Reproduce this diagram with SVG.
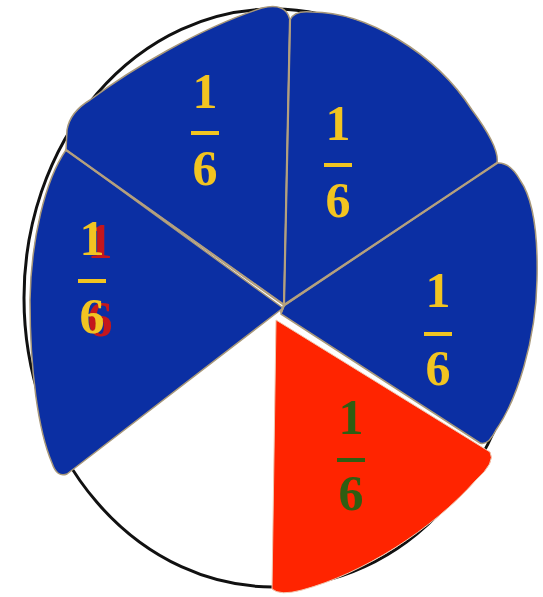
<svg xmlns="http://www.w3.org/2000/svg" width="543" height="597" viewBox="0 0 543 597">
<style>
.blue{fill:#0b2fa3;stroke:#a8987a;stroke-width:1.5;stroke-linejoin:round}
.red{fill:#ff2400;stroke:#f0c8b0;stroke-width:1;stroke-linejoin:round}
.div{stroke:#b4a07e;stroke-width:2.2;fill:none;stroke-linecap:round}
.num{font-family:"Liberation Serif","Times New Roman",serif;font-weight:bold;font-size:50px;text-anchor:middle}
.gold{fill:#f2c420}
.green{fill:#2f5e12}
</style>
<defs>
<filter id="redShadow" x="-20%" y="-20%" width="160%" height="140%">
<feFlood flood-color="#c4161a" result="c"/>
<feComposite in="c" in2="SourceAlpha" operator="in" result="s"/>
<feOffset in="s" dx="8" dy="3" result="o"/>
<feMerge><feMergeNode in="o"/><feMergeNode in="SourceGraphic"/></feMerge>
</filter>
</defs>
<rect width="543" height="597" fill="#ffffff"/>
<g id="circle">
<ellipse cx="273" cy="298" rx="249" ry="289" fill="#ffffff" stroke="#111111" stroke-width="3"/>
</g>
<g id="slice-top-left">
<path class="blue" d="M 284,305 L 66,150 L 67,130 Q 70,112 90,100 C 130,70 200,28 262,8 Q 286,2 290,20 Z"/>
<text class="num gold" x="205" y="108">1</text>
<rect class="gold" x="191" y="131" width="28" height="4"/>
<text class="num gold" x="205" y="185">6</text>
</g>
<g id="slice-top-right">
<path class="blue" d="M 284,305 L 290,20 Q 294,10 312,12 C 365,12 435,52 472,110 Q 500,148 497,163 Z"/>
<text class="num gold" x="338" y="140">1</text>
<rect class="gold" x="324" y="163" width="28" height="4"/>
<text class="num gold" x="338" y="217">6</text>
</g>
<g id="slice-right">
<path class="blue" d="M 284,306 L 497,163 Q 510,162 520,180 C 534,200 538,240 537,280 C 536,340 517,400 496,430 Q 488,446 480,443 L 281,314 Z"/>
<text class="num gold" x="438" y="307">1</text>
<rect class="gold" x="424" y="332" width="28" height="4"/>
<text class="num gold" x="438" y="385">6</text>
</g>
<g id="slice-red">
<path class="red" d="M 276,320 L 272,589 Q 280,596 302,590 C 362,574 432,530 476,480 Q 496,462 490,452 Z"/>
<text class="num green" x="351" y="434">1</text>
<rect class="green" x="337" y="458" width="28" height="4"/>
<text class="num green" x="351" y="510">6</text>
</g>
<g id="slice-left">
<path class="blue" d="M 283,308 L 66,150 C 45,180 31,240 30,300 C 30,370 38,430 52,463 Q 57,478 67,474 Z"/>
<g filter="url(#redShadow)">
<text class="num gold" x="92" y="255">1</text>
<text class="num gold" x="92" y="333">6</text>
</g>
<rect class="gold" x="78" y="279" width="28" height="4"/>
</g>
<g id="connectors">
<path class="div" d="M 66,150 L 284,305 L 290,20"/>
<path class="div" d="M 284,305 L 497,163"/>
<path class="div" d="M 284,305 L 281,312"/>
</g>
</svg>
